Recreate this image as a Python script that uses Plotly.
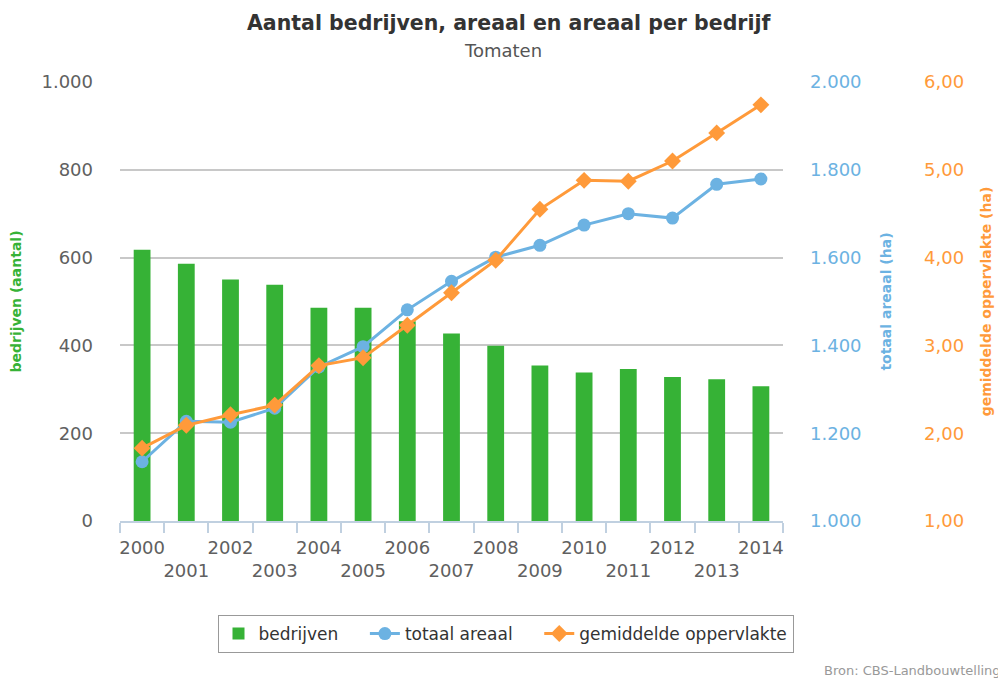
import plotly.graph_objects as go

years = [str(y) for y in range(2000, 2015)]
bedrijven = [618, 586, 550, 538, 486, 486, 455, 427, 399, 354, 338, 346, 328, 323, 307]
totaal_areaal = [1135, 1227, 1225, 1257, 1351, 1397, 1481, 1546, 1601, 1628, 1674, 1700, 1690, 1767, 1779]
gem_oppervlakte = [1.83, 2.09, 2.21, 2.32, 2.77, 2.86, 3.23, 3.60, 3.97, 4.55, 4.88, 4.87, 5.10, 5.42, 5.74]
tick_labels = [y if i % 2 == 0 else "<br>" + y for i, y in enumerate(years)]

GREEN = "#36B236"
BLUE = "#6CB2E2"
ORANGE = "#FF9A3A"
FONT = "DejaVu Sans"
PAD = "\u00a0" * 4

# the page body adds an 8px margin, so the figure is 8px smaller and shifted
OFF = 8
W, H = 1006 - OFF, 684 - OFF
L, R, T, B = 120 - OFF, 20, 82 - OFF, 684 - 521
plot_w = W - L - R
plot_h = H - T - B
x_end = (783 - OFF - L) / plot_w
y3_pos = (915 - OFF - L) / plot_w


def px_x(x):
    return (x - OFF - L) / plot_w


def px_y(y):
    return 1 - (y - OFF - T) / plot_h


fig = go.Figure()
fig.add_trace(go.Bar(x=years, y=bedrijven, name="bedrijven" + PAD, marker_color=GREEN,
                     marker_line_width=0, width=0.38, yaxis="y"))
fig.add_trace(go.Scatter(x=years, y=totaal_areaal, name="totaal areaal" + PAD, mode="lines+markers",
                         line=dict(color=BLUE, width=3), marker=dict(symbol="circle", size=13, color=BLUE),
                         yaxis="y2"))
fig.add_trace(go.Scatter(x=years, y=gem_oppervlakte, name="gemiddelde oppervlakte", mode="lines+markers",
                         line=dict(color=ORANGE, width=3), marker=dict(symbol="diamond", size=13, color=ORANGE),
                         yaxis="y3"))

fig.update_layout(
    width=W, height=H,
    margin=dict(l=L, r=R, t=T, b=B, autoexpand=False),
    paper_bgcolor="white", plot_bgcolor="white",
    separators=",.",
    font=dict(family=FONT, size=16, color="#606060"),
    showlegend=True,
    xaxis=dict(domain=[0, x_end], type="category", range=[-0.5, 14.5], tickmode="array",
               tickvals=years, ticktext=tick_labels, tickangle=0, automargin=False,
               tickson="boundaries", ticks="outside", ticklen=10, tickcolor="#C0D0E0", tickwidth=2,
               showline=True, linecolor="#C0D0E0", linewidth=2, showgrid=False,
               tickfont=dict(size=18, color="#606060"), ticklabelstandoff=9),
    yaxis=dict(range=[0, 1000], tickvals=[0, 200, 400, 600, 800, 1000], tickformat=",d", automargin=False,
               showgrid=True, gridcolor="#C8C8C8", gridwidth=1.5, zeroline=False,
               tickfont=dict(size=18, color="#606060"), ticklabelstandoff=26,
               title=dict(text="<b>bedrijven (aantal)</b>", font=dict(size=14, color=GREEN), standoff=16)),
    yaxis2=dict(range=[1000, 2000], tickvals=[1000, 1200, 1400, 1600, 1800, 2000], tickformat=",d",
                overlaying="y", side="right", anchor="x", showgrid=False, zeroline=False, automargin=False,
                tickfont=dict(size=18, color=BLUE), ticklabelstandoff=26,
                title=dict(text="<b>totaal areaal (ha)</b>", font=dict(size=14, color=BLUE), standoff=20)),
    yaxis3=dict(range=[1, 6], tickvals=[1, 2, 3, 4, 5, 6], tickformat=".2f", automargin=False,
                overlaying="y", side="right", anchor="free", position=y3_pos, showgrid=False, zeroline=False,
                tickfont=dict(size=18, color=ORANGE), ticklabelstandoff=8,
                title=dict(text="<b>gemiddelde oppervlakte (ha)</b>", font=dict(size=14, color=ORANGE), standoff=18)),
    legend=dict(orientation="h", xref="container", yref="container", x=(505.5 - OFF) / W, xanchor="center",
                y=1 - (615 - OFF) / H, yanchor="top", bordercolor="#999999", borderwidth=1,
                font=dict(size=17, color="#333333"), itemwidth=30, bgcolor="white"),
    annotations=[
        dict(text="<b>Aantal bedrijven, areaal en areaal per bedrijf</b>", xref="paper", yref="paper",
             x=px_x(509), y=px_y(OFF + 1), xanchor="center", yanchor="top",
             showarrow=False, font=dict(size=20.5, color="#333333", family=FONT)),
        dict(text="Tomaten", xref="paper", yref="paper",
             x=px_x(503), y=px_y(50), xanchor="center", yanchor="middle",
             showarrow=False, font=dict(size=18, color="#555555", family=FONT)),
        dict(text="Bron: CBS-Landbouwtelling", xref="paper", yref="paper",
             x=px_x(1003), y=px_y(670), xanchor="right", yanchor="middle",
             showarrow=False, font=dict(size=13, color="#999999", family=FONT)),
    ],
)

fig.write_html("out.html")
